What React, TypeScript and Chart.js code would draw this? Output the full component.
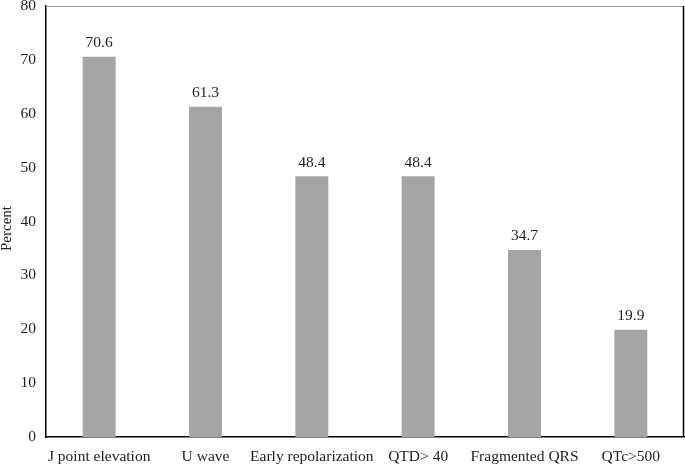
import React, { useEffect, useRef } from "react";
import { Chart, registerables } from "chart.js";

Chart.register(...registerables);

const categories = ["J point elevation", "U wave", "Early repolarization", "QTD> 40", "Fragmented QRS", "QTc>500"];
const percentValues = [70.6, 61.3, 48.4, 48.4, 34.7, 19.9];
const yTicks = [0, 10, 20, 30, 40, 50, 60, 70, 80];
const yTitle = "Percent";

const FONT = "'Liberation Serif', 'Times New Roman', serif";

const boxPlugin = {
  id: "boxPlugin",
  afterDraw(chart: any) {
    const { ctx, chartArea } = chart;
    const { left, right, top, bottom } = chartArea;
    ctx.save();
    ctx.lineWidth = 1;
    ctx.strokeStyle = "#9a9a9a";
    ctx.beginPath();
    ctx.moveTo(left, Math.round(top) + 0.5);
    ctx.lineTo(right, Math.round(top) + 0.5);
    ctx.stroke();
    ctx.strokeStyle = "#000";
    ctx.lineWidth = 1.5;
    ctx.beginPath();
    ctx.moveTo(Math.round(right) - 0.5, top);
    ctx.lineTo(Math.round(right) - 0.5, bottom);
    ctx.stroke();
    // y-axis title
    ctx.translate(7, (top + bottom) / 2 + 7);
    ctx.rotate(-Math.PI / 2);
    ctx.font = `15px ${FONT}`;
    ctx.fillStyle = "#222";
    ctx.textAlign = "center";
    ctx.textBaseline = "middle";
    ctx.fillText(yTitle, 0, 0);
    ctx.restore();
  },
};

const labelPlugin = {
  id: "labelPlugin",
  afterDatasetsDraw(chart: any) {
    const { ctx } = chart;
    const meta = chart.getDatasetMeta(0);
    ctx.save();
    ctx.font = `15.5px ${FONT}`;
    ctx.fillStyle = "#222";
    ctx.textAlign = "center";
    ctx.textBaseline = "bottom";
    meta.data.forEach((bar: any, i: number) => {
      ctx.fillText(percentValues[i].toFixed(1), bar.x, bar.y - 6);
    });
    ctx.restore();
  },
};

export default function App() {
  const ref = useRef<HTMLCanvasElement | null>(null);
  useEffect(() => {
    if (!ref.current) return;
    const chart = new Chart(ref.current, {
      type: "bar",
      data: {
        labels: categories,
        datasets: [
          {
            data: percentValues,
            backgroundColor: "#a5a5a5",
            categoryPercentage: 1,
            barPercentage: 0.31,
          },
        ],
      },
      options: {
        animation: false,
        responsive: false,
        maintainAspectRatio: false,
        layout: { padding: { top: 6, right: 1, left: 0, bottom: 0 } },
        plugins: { legend: { display: false }, tooltip: { enabled: false } },
        scales: {
          x: {
            grid: { display: false },
            border: { display: true, color: "#000", width: 1.5 },
            ticks: { color: "#222", font: { family: FONT, size: 15.5 }, padding: 3, maxRotation: 0, autoSkip: false },
            afterFit: (axis: any) => {
              axis.height = 27;
              axis.paddingLeft = 0;
              axis.paddingRight = 0;
            },
          },
          y: {
            min: 0,
            max: 80,
            afterBuildTicks: (axis: any) => {
              axis.ticks = yTicks.map((v) => ({ value: v }));
            },
            afterFit: (axis: any) => {
              axis.width = 46;
              axis.paddingTop = 0;
              axis.paddingBottom = 0;
            },
            grid: { display: false },
            border: { display: true, color: "#000", width: 1.5 },
            ticks: { color: "#222", font: { family: FONT, size: 15.5 }, padding: 2 },
            title: { display: false },
          },
        },
      },
      plugins: [boxPlugin, labelPlugin],
    });
    return () => chart.destroy();
  }, []);
  return (
    <div style={{ position: "fixed", left: 0, top: 0, width: 685, height: 464, background: "#fff" }}>
      <canvas ref={ref} width={685} height={464} style={{ width: 685, height: 464, display: "block" }} />
    </div>
  );
}
